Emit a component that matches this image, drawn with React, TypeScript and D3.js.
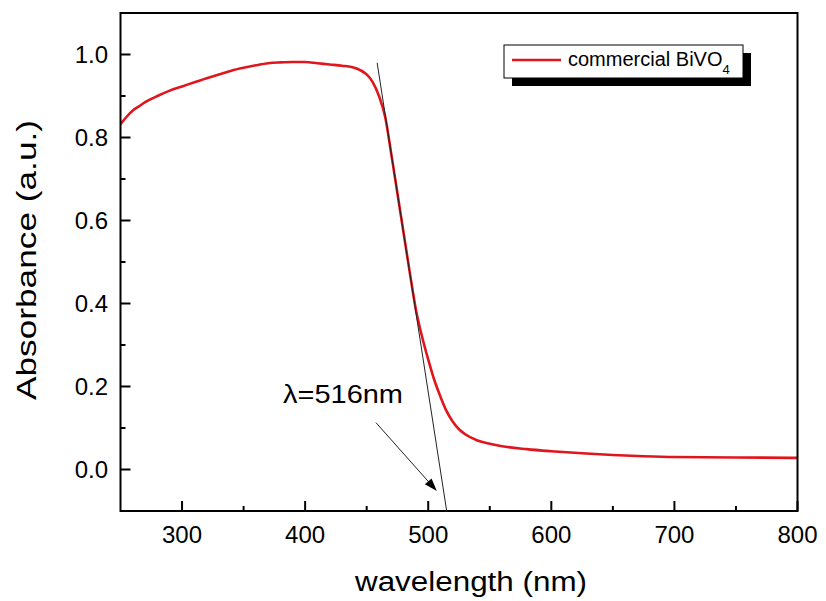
import React from "react";
import * as d3 from "d3";

// UV-vis absorbance spectrum of commercial BiVO4
const wavelength = [
  250, 255, 260, 265, 270, 280, 290, 300, 310, 320, 330, 340, 350, 360, 370, 380,
  390, 400, 410, 420, 430, 440, 445, 450, 455, 460, 465, 470, 475, 480, 485, 490,
  495, 500, 505, 510, 515, 520, 525, 530, 540, 550, 560, 580, 600, 625, 650, 675,
  700, 750, 800,
];
const absorbance = [
  0.832, 0.85, 0.865, 0.875, 0.885, 0.9, 0.913, 0.923, 0.933, 0.943, 0.952, 0.961,
  0.968, 0.974, 0.979, 0.981, 0.982, 0.982, 0.979, 0.976, 0.973, 0.968, 0.962,
  0.952, 0.933, 0.9, 0.85, 0.76, 0.665, 0.57, 0.475, 0.385, 0.32, 0.265, 0.215,
  0.175, 0.14, 0.115, 0.097, 0.085, 0.07, 0.062, 0.056, 0.049, 0.044, 0.039, 0.035,
  0.032, 0.03, 0.029, 0.028,
];

// Tangent to the absorption edge and the annotation arrow (data units)
const tangentWl = [458.5, 515];
const tangentAbs = [0.98, -0.1];
const arrowWl = [457.5, 507];
const arrowAbs = [0.113, -0.052];
const edgeLabel = "λ=516nm";

const xMajorTicks = [300, 400, 500, 600, 700, 800];
const xMinorTicks = [350, 450, 550, 650, 750];
const yMajorTicks = [0.0, 0.2, 0.4, 0.6, 0.8, 1.0];
const yMinorTicks = [0.1, 0.3, 0.5, 0.7, 0.9];

const seriesName = "commercial BiVO";
const seriesSub = "4";

const W = 826;
const H = 601;
const left = 120.5;
const right = 797.5;
const top = 13;
const bottom = 511;
const font = "Arial, 'Liberation Sans', sans-serif";
const red = "#e0161d";

export default function App() {
  const x = d3.scaleLinear().domain([250, 800]).range([left, right]);
  const y = d3.scaleLinear().domain([-0.1, 1.1]).range([bottom, top]);

  const pts = wavelength.map((w, i) => [w, absorbance[i]] as [number, number]);
  const line = d3
    .line<[number, number]>()
    .x((d) => x(d[0]))
    .y((d) => y(d[1]))
    .curve(d3.curveMonotoneX);

  const ax1 = x(arrowWl[0]);
  const ay1 = y(arrowAbs[0]);
  const ax2 = x(arrowWl[1]);
  const ay2 = y(arrowAbs[1]);
  const ang = Math.atan2(ay2 - ay1, ax2 - ax1);
  const headLen = 13;
  const headHalf = 4.5;
  const bx = ax2 - headLen * Math.cos(ang);
  const by = ay2 - headLen * Math.sin(ang);
  const px = -Math.sin(ang) * headHalf;
  const py = Math.cos(ang) * headHalf;
  const head = `M${ax2},${ay2}L${bx + px},${by + py}L${bx - px},${by - py}Z`;

  return (
    <svg
      width={W}
      height={H}
      style={{ position: "absolute", left: 0, top: 0, background: "#fff" }}
      fontFamily={font}
    >
      <rect x={0} y={0} width={W} height={H} fill="#fff" />
      <defs>
        <clipPath id="plotClip">
          <rect x={left} y={top} width={right - left} height={bottom - top} />
        </clipPath>
      </defs>

      {/* ticks pointing into the plot */}
      {xMajorTicks.map((t) => (
        <line key={"xM" + t} x1={x(t)} x2={x(t)} y1={bottom} y2={bottom - 10} stroke="#000" strokeWidth={2} />
      ))}
      {xMinorTicks.map((t) => (
        <line key={"xm" + t} x1={x(t)} x2={x(t)} y1={bottom} y2={bottom - 5} stroke="#000" strokeWidth={2} />
      ))}
      {yMajorTicks.map((t) => (
        <line key={"yM" + t} x1={left} x2={left + 10} y1={y(t)} y2={y(t)} stroke="#000" strokeWidth={2} />
      ))}
      {yMinorTicks.map((t) => (
        <line key={"ym" + t} x1={left} x2={left + 5} y1={y(t)} y2={y(t)} stroke="#000" strokeWidth={2} />
      ))}

      {/* tick labels */}
      {xMajorTicks.map((t) => (
        <text key={"xl" + t} x={x(t)} y={543} fontSize={24} textAnchor="middle" fill="#000">
          {t}
        </text>
      ))}
      {yMajorTicks.map((t) => (
        <text key={"yl" + t} x={108} y={y(t) + 8.5} fontSize={24} textAnchor="end" fill="#000">
          {t.toFixed(1)}
        </text>
      ))}

      {/* spectrum */}
      <path d={line(pts) || ""} fill="none" stroke={red} strokeWidth={2.6} clipPath="url(#plotClip)" />

      {/* tangent line */}
      <line
        x1={x(tangentWl[0])}
        y1={y(tangentAbs[0])}
        x2={x(tangentWl[1])}
        y2={y(tangentAbs[1])}
        stroke="#222"
        strokeWidth={1}
      />

      {/* annotation arrow */}
      <line x1={ax1} y1={ay1} x2={bx} y2={by} stroke="#222" strokeWidth={1} />
      <path d={head} fill="#000" />
      <text x={283} y={403} fontSize={25} textLength={120} lengthAdjust="spacingAndGlyphs" fill="#000">
        {edgeLabel}
      </text>

      {/* frame */}
      <rect x={left} y={top} width={right - left} height={bottom - top} fill="none" stroke="#000" strokeWidth={2} />

      {/* legend with drop shadow */}
      <rect x={512} y={53} width={239} height={33} fill="#000" />
      <rect x={504} y={45} width={239} height={33} fill="#fff" stroke="#000" strokeWidth={1} />
      <line x1={512} x2={561} y1={60} y2={60} stroke={red} strokeWidth={2.6} />
      <text x={568} y={66} fontSize={20} fill="#000">
        {seriesName}
        <tspan fontSize={13} dy={8}>
          {seriesSub}
        </tspan>
      </text>

      {/* axis titles */}
      <text x={471} y={591} fontSize={27} textAnchor="middle" textLength={232} lengthAdjust="spacingAndGlyphs" fill="#000">
        wavelength (nm)
      </text>
      <text
        transform={`translate(36,260) rotate(-90)`}
        fontSize={28}
        textAnchor="middle"
        textLength={280}
        lengthAdjust="spacingAndGlyphs"
        fill="#000"
      >
        Absorbance (a.u.)
      </text>
    </svg>
  );
}
